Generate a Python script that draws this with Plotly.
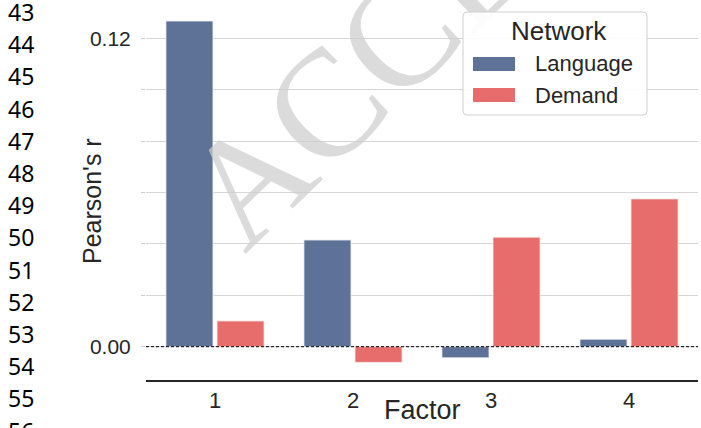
import plotly.graph_objects as go

factors = ["1", "2", "3", "4"]
language = [0.1267, 0.0415, -0.0043, 0.0029]
demand = [0.0100, -0.0061, 0.0426, 0.0575]
ytick_vals = [0.00, 0.02, 0.04, 0.06, 0.08, 0.10, 0.12]
ytick_text = ["0.00", "", "", "", "", "", "0.12"]
line_numbers = ["43", "44", "45", "46", "47", "48", "49", "50", "51", "52", "53", "54", "55", "56"]

W, H = 701, 428
L, R, T, B = 146, 3, 0, 48
PW, PH = W - L - R, H - T - B


def px(x):
    return (x - L) / PW


def py(y):
    return (T + PH - y) / PH


BLUE = "#5e7297"
RED = "#e76d6d"
TXT = "#262626"

fig = go.Figure()
fig.add_trace(go.Bar(x=factors, y=language, name="Language", marker=dict(color=BLUE, line=dict(color="#e8eaf2", width=0.8)), showlegend=False))
fig.add_trace(go.Bar(x=factors, y=demand, name="Demand", marker=dict(color=RED, line=dict(color="#f7e4e4", width=0.8)), showlegend=False))

shapes = []
# watermark (shape label so the legend box can sit above it)
cx, cy = 480, -67
shapes.append(dict(type="rect", xref="paper", yref="paper",
                   x0=px(cx - 5), x1=px(cx + 5), y0=py(cy + 5), y1=py(cy - 5),
                   line=dict(width=0, color="rgba(0,0,0,0)"), fillcolor="rgba(0,0,0,0)", layer="above",
                   label=dict(text="ACCEPTED", textangle=-44, textposition="middle center",
                              font=dict(family="Liberation Serif", size=152, color="rgba(205,205,205,0.72)"))))
# zero line
shapes.append(dict(type="line", xref="paper", yref="y", x0=0, x1=1, y0=0, y1=0,
                   line=dict(color="black", width=1, dash="3px,2px"), layer="above"))
# legend box with rounded corners
bx0, bx1, by0, by1 = px(463), px(647), py(115), py(12)
rx, ry = 4 / PW, 4 / PH
path = (f"M {bx0+rx},{by1} L {bx1-rx},{by1} Q {bx1},{by1} {bx1},{by1-ry} "
        f"L {bx1},{by0+ry} Q {bx1},{by0} {bx1-rx},{by0} L {bx0+rx},{by0} "
        f"Q {bx0},{by0} {bx0},{by0+ry} L {bx0},{by1-ry} Q {bx0},{by1} {bx0+rx},{by1} Z")
shapes.append(dict(type="path", xref="paper", yref="paper", path=path,
                   line=dict(color="#d0d0d0", width=1), fillcolor="rgba(255,255,255,0.92)", layer="above"))
# legend swatches
for (y0, y1, col) in [(57, 71, BLUE), (88, 102, RED)]:
    shapes.append(dict(type="rect", xref="paper", yref="paper", x0=px(473), x1=px(515), y0=py(y1), y1=py(y0),
                       line=dict(width=0), fillcolor=col, layer="above"))

annotations = []
annotations.append(dict(text="Network", xref="paper", yref="paper", x=px(559), y=py(31), showarrow=False,
                        xanchor="center", yanchor="middle", font=dict(family="Liberation Sans", size=26, color=TXT)))
annotations.append(dict(text="Language", xref="paper", yref="paper", x=px(533), y=py(64), showarrow=False,
                        xanchor="left", yanchor="middle", font=dict(family="Liberation Sans", size=22, color=TXT)))
annotations.append(dict(text="Demand", xref="paper", yref="paper", x=px(533), y=py(95), showarrow=False,
                        xanchor="left", yanchor="middle", font=dict(family="Liberation Sans", size=22, color=TXT)))
annotations.append(dict(text="Factor", xref="paper", yref="paper", x=px(422), y=py(410), showarrow=False,
                        xanchor="center", yanchor="middle", font=dict(family="Liberation Sans", size=27, color=TXT)))
annotations.append(dict(text="Pearson's r", xref="paper", yref="paper", x=px(92), y=py(201), showarrow=False,
                        textangle=-90, xanchor="center", yanchor="middle", font=dict(family="Liberation Sans", size=25, color=TXT)))
for i, n in enumerate(line_numbers):
    annotations.append(dict(text=n, xref="paper", yref="paper", x=px(6), y=py(12 + 32.2 * i), showarrow=False,
                            xanchor="left", yanchor="middle", font=dict(family="Noto Sans", size=23, color="black")))

fig.update_layout(
    width=W, height=H,
    margin=dict(l=L, r=R, t=T, b=B, pad=0),
    paper_bgcolor="white", plot_bgcolor="white",
    barmode="group", bargap=0.26, bargroupgap=0.08,
    shapes=shapes, annotations=annotations,
    font=dict(family="Liberation Sans", color=TXT),
    xaxis=dict(type="category", range=[-0.5, 3.5], showgrid=False, zeroline=False,
               showline=True, linecolor="#262626", linewidth=1.5, ticks="",
               tickfont=dict(size=22, color=TXT)),
    yaxis=dict(range=[-0.01296, 0.1349], tickvals=ytick_vals, ticktext=ytick_text,
               showgrid=True, gridcolor="#d6d6d6", gridwidth=1.2, zeroline=False,
               showline=False, ticks="outside", ticklen=4, tickcolor="#cccccc", tickwidth=1,
               ticklabelstandoff=6, tickfont=dict(size=21, color=TXT)),
)

fig.write_html("out.html")
